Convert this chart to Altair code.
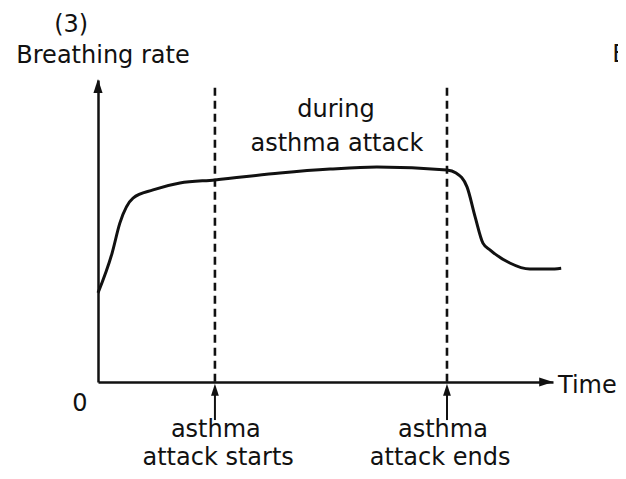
import altair as alt
import pandas as pd

# ---- data (time and rate in arbitrary 0-100 units) ----
curve_time = [0, 3.1, 4.8, 7.7, 12.1, 18.0, 25.7, 40.0, 51.0, 61.3, 76.7, 78.7,
              81.1, 82.9, 84.6, 86.2, 90.5, 94.9, 99.3, 101.8]
curve_rate = [29.5, 42.7, 52.6, 60.9, 63.6, 65.9, 66.9, 69.2, 70.5, 71.2, 70.2, 69.2,
              64.6, 54.6, 46.0, 43.7, 39.4, 37.4, 37.4, 37.7]

event_times = [25.7, 76.7]          # asthma attack starts / ends
event_top = [97.4, 97.4]
event_pointer_low = [-12.6, -12.6]
event_pointer_high = [-4.0, -4.0]
event_pointer_head = [-2.6, -2.6]

# centred annotation texts
label_texts = ["(3)", "Breathing rate", "during", "asthma attack", "0",
               "asthma", "attack starts", "asthma", "attack ends"]
label_x = [-5.9, 1.1, 52.3, 52.5, -4.0, 25.9, 26.4, 75.8, 75.2]
label_y = [115.9, 105.6, 87.7, 76.5, -9.6, -18.2, -27.5, -18.2, -27.5]

# left-aligned texts
left_texts = ["Time", "B"]
left_x = [101.1, 113.0]
left_y = [-3.6, 106.0]

# axis arrowheads (x end and y end)
arrow_x = [98.5, 0]
arrow_y = [0, 98.0]
arrow_shape = ["M-1,-0.65L1,0L-1,0.65Z", "M-0.65,1L0,-1L0.65,1Z"]

INK = "#111111"
FONT = "DejaVu Sans"
FS = 24

xs = alt.Scale(domain=[0, 100], nice=False, zero=False)
ys = alt.Scale(domain=[0, 100], nice=False, zero=False)

curve_df = pd.DataFrame({"t": curve_time, "r": curve_rate})
events_df = pd.DataFrame({"t": event_times, "top": event_top, "lo": event_pointer_low,
                          "hi": event_pointer_high, "head": event_pointer_head})
labels_df = pd.DataFrame({"t": label_x, "r": label_y, "txt": label_texts})
left_df = pd.DataFrame({"t": left_x, "r": left_y, "txt": left_texts})
arrows_df = pd.DataFrame({"t": arrow_x, "r": arrow_y, "shape": arrow_shape})

curve = alt.Chart(curve_df).mark_line(
    interpolate="monotone", color=INK, strokeWidth=3
).encode(
    x=alt.X("t:Q", scale=xs, title=None),
    y=alt.Y("r:Q", scale=ys, title=None),
)

dashes = alt.Chart(events_df).mark_rule(
    color=INK, strokeWidth=2.6, strokeDash=[8, 5]
).encode(
    x=alt.X("t:Q", scale=xs, title=None),
    y=alt.Y("top:Q", scale=ys, title=None),
    y2=alt.datum(0),
)

pointers = alt.Chart(events_df).mark_rule(color=INK, strokeWidth=2).encode(
    x=alt.X("t:Q", scale=xs, title=None),
    y=alt.Y("lo:Q", scale=ys, title=None),
    y2="hi:Q",
)

pointer_heads = alt.Chart(events_df).mark_point(
    shape="M-0.65,1L0,-1L0.65,1Z", filled=True, color=INK, size=144, opacity=1
).encode(
    x=alt.X("t:Q", scale=xs, title=None),
    y=alt.Y("head:Q", scale=ys, title=None),
)

axis_heads = alt.Chart(arrows_df).mark_point(
    filled=True, color=INK, size=196, opacity=1
).encode(
    x=alt.X("t:Q", scale=xs, title=None),
    y=alt.Y("r:Q", scale=ys, title=None),
    shape=alt.Shape("shape:N", scale=None, legend=None),
)

labels = alt.Chart(labels_df).mark_text(
    font=FONT, fontSize=FS, color=INK, align="center", baseline="alphabetic"
).encode(
    x=alt.X("t:Q", scale=xs, title=None),
    y=alt.Y("r:Q", scale=ys, title=None),
    text="txt:N",
)

left_labels = alt.Chart(left_df).mark_text(
    font=FONT, fontSize=FS, color=INK, align="left", baseline="alphabetic"
).encode(
    x=alt.X("t:Q", scale=xs, title=None),
    y=alt.Y("r:Q", scale=ys, title=None),
    text="txt:N",
)

chart = alt.layer(
    curve, dashes, pointers, pointer_heads, axis_heads, labels, left_labels
).properties(
    width=455,
    height=302,
    padding={"left": 90, "top": 72, "right": 65, "bottom": 89},
    autosize=alt.AutoSizeParams(type="none"),
    background="white",
).configure_axis(
    domain=True, domainColor=INK, domainWidth=2.5, ticks=False, labels=False,
    grid=False,
).configure_view(stroke=None)

chart.save("out.html", embed_options={"renderer": "svg", "actions": False})
